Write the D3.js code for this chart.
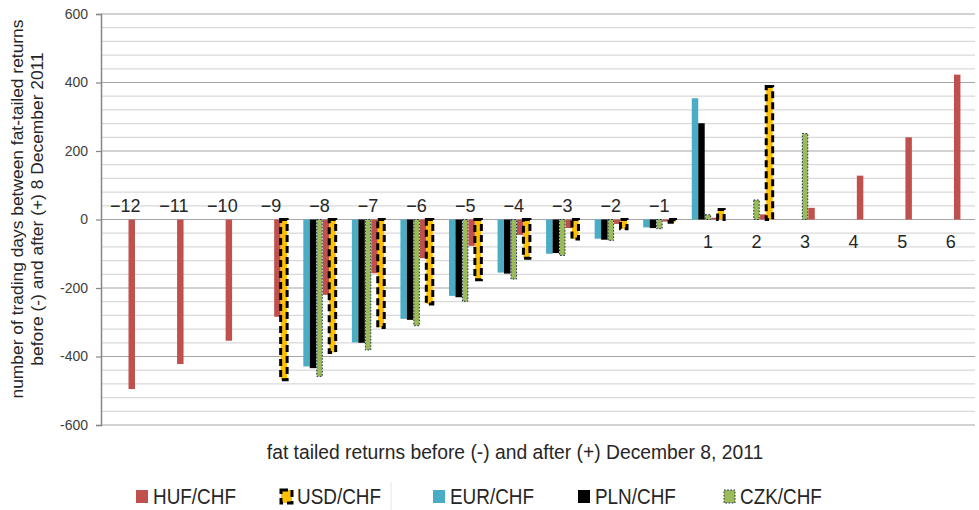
<!DOCTYPE html>
<html><head><meta charset="utf-8">
<script src="https://cdn.jsdelivr.net/npm/d3@7"></script>
<style>body{margin:0;background:#fff}svg{display:block}</style>
</head><body>
<script>
const categories = ["−12","−11","−10","−9","−8","−7","−6","−5","−4","−3","−2","−1","1","2","3","4","5","6"];
const hufChf = [-495,-422,-354,-284,-220,-157,-113,-77,-45,-25,-13,-6,5,15,34,128,240,423];
const usdChf = [null,null,null,-468,-388,-315,-247,-176,-113,-57,-27,-8,29,388,null,null,null,null];
const eurChf = [null,null,null,null,-429,-359,-290,-223,-155,-100,-56,-23,354,null,null,null,null,null];
const plnChf = [null,null,null,null,-434,-360,-293,-227,-158,-98,-59,-25,281,null,null,null,null,null];
const czkChf = [null,null,null,null,-458,-381,-310,-239,-174,-105,-61,-27,14,57,251,null,null,null];
const yTicks = [-600,-400,-200,0,200,400,600];
const seriesNames = ["HUF/CHF","USD/CHF","EUR/CHF","PLN/CHF","CZK/CHF"];

const W = 979, H = 510;
const svg = d3.select("body").append("svg").attr("width", W).attr("height", H);

const y = d3.scaleLinear().domain([-600, 600]).range([425, 14]);
const x = d3.scaleBand().domain(categories).range([101, 975]).paddingInner(1/3).paddingOuter(1/6);

const styles = {
  "HUF/CHF": {fill:"#c0504d"},
  "USD/CHF": {fill:"#ffc000", stroke:"#000", sw:3, dash:"7,4"},
  "EUR/CHF": {fill:"#4bacc6"},
  "PLN/CHF": {fill:"#000000"},
  "CZK/CHF": {fill:"#9bbb59", stroke:"#1f2d5a", sw:1, dash:"1.6,1.6"}
};
const dataBy = {"HUF/CHF":hufChf,"USD/CHF":usdChf,"EUR/CHF":eurChf,"PLN/CHF":plnChf,"CZK/CHF":czkChf};
const barOrder = ["EUR/CHF","PLN/CHF","CZK/CHF","HUF/CHF","USD/CHF"];
const xs = d3.scaleBand().domain(barOrder).range([0, x.bandwidth()]);
const font = "Liberation Sans, Arial, sans-serif";

// gridlines
const minor = d3.range(-600, 601, 40);
svg.append("g").selectAll("line").data(minor).join("line")
  .attr("x1", 101).attr("x2", 975)
  .attr("y1", d => y(d)).attr("y2", d => y(d))
  .attr("stroke", d => d % 200 === 0 ? "#a6a6a6" : "#d9d9d9")
  .attr("stroke-width", 1.2);

// y axis
const ax = svg.append("g").attr("transform", "translate(101,0)")
  .call(d3.axisLeft(y).tickValues(yTicks).tickSize(5).tickFormat(d => String(d)));
ax.select(".domain").attr("stroke", "#868686").attr("stroke-width", 1.5);
ax.selectAll(".tick line").attr("stroke", "#868686").attr("stroke-width", 1.2);
ax.selectAll(".tick text").attr("font-family", font)
  .attr("font-size", 14).attr("fill", "#404040").attr("x", -13);

// bars
barOrder.forEach(name => {
  const st = styles[name];
  const vals = dataBy[name];
  const pts = categories.map((c, i) => ({c, v: vals[i]})).filter(d => d.v !== null);
  const inset = name === "CZK/CHF" ? 0.5 : 0;
  const sel = svg.append("g").selectAll("rect").data(pts).join("rect")
    .attr("x", d => x(d.c) + xs(name) + inset)
    .attr("width", xs.bandwidth() - 2*inset)
    .attr("y", d => Math.min(y(d.v), y(0)))
    .attr("height", d => Math.abs(y(d.v) - y(0)))
    .attr("fill", st.fill);
  if (st.stroke) sel.attr("stroke", st.stroke).attr("stroke-width", st.sw).attr("stroke-dasharray", st.dash);
});

// category labels
svg.append("g").selectAll("text").data(categories).join("text")
  .attr("x", d => x(d) + x.bandwidth()/2)
  .attr("y", (d, i) => i < 12 ? 212 : 248)
  .attr("text-anchor", "middle")
  .attr("font-family", font)
  .attr("font-size", 18).attr("fill", "#262626")
  .text(d => d);

// axis titles
svg.append("text").attr("x", 515).attr("y", 459).attr("text-anchor", "middle")
  .attr("font-family", font).attr("font-size", 19.3).attr("fill", "#262626")
  .text("fat tailed returns before (-) and after (+) December 8, 2011");
const yt = svg.append("text").attr("transform", "translate(0,209) rotate(-90)")
  .attr("text-anchor", "middle")
  .attr("font-family", font).attr("font-size", 17.4).attr("fill", "#262626");
yt.append("tspan").attr("x", 0).attr("y", 23).text("number of trading days between fat-tailed returns");
yt.append("tspan").attr("x", 0).attr("y", 43).text("before (-) and after (+) 8 December 2011");

// legend
const legX = {"HUF/CHF":136, "USD/CHF":280, "EUR/CHF":433, "PLN/CHF":578, "CZK/CHF":723};
svg.append("line").attr("x1", 391).attr("x2", 391).attr("y1", 482).attr("y2", 510).attr("stroke", "#e6e6e6");
const lg = svg.append("g").selectAll("g").data(seriesNames).join("g")
  .attr("transform", d => `translate(${legX[d]},490)`);
lg.append("rect").attr("width", d => styles[d].stroke ? 11 : 12).attr("height", 13)
  .attr("x", d => styles[d].stroke ? 1 : 0)
  .attr("fill", d => styles[d].fill)
  .attr("stroke", d => styles[d].stroke || null)
  .attr("stroke-width", d => styles[d].stroke ? styles[d].sw : null)
  .attr("stroke-dasharray", d => styles[d].dash || null);
lg.append("text").attr("transform", "translate(17,14) scale(0.86,1)")
  .attr("font-family", font)
  .attr("font-size", 22).attr("fill", "#262626")
  .text(d => d);
</script>
</body></html>
